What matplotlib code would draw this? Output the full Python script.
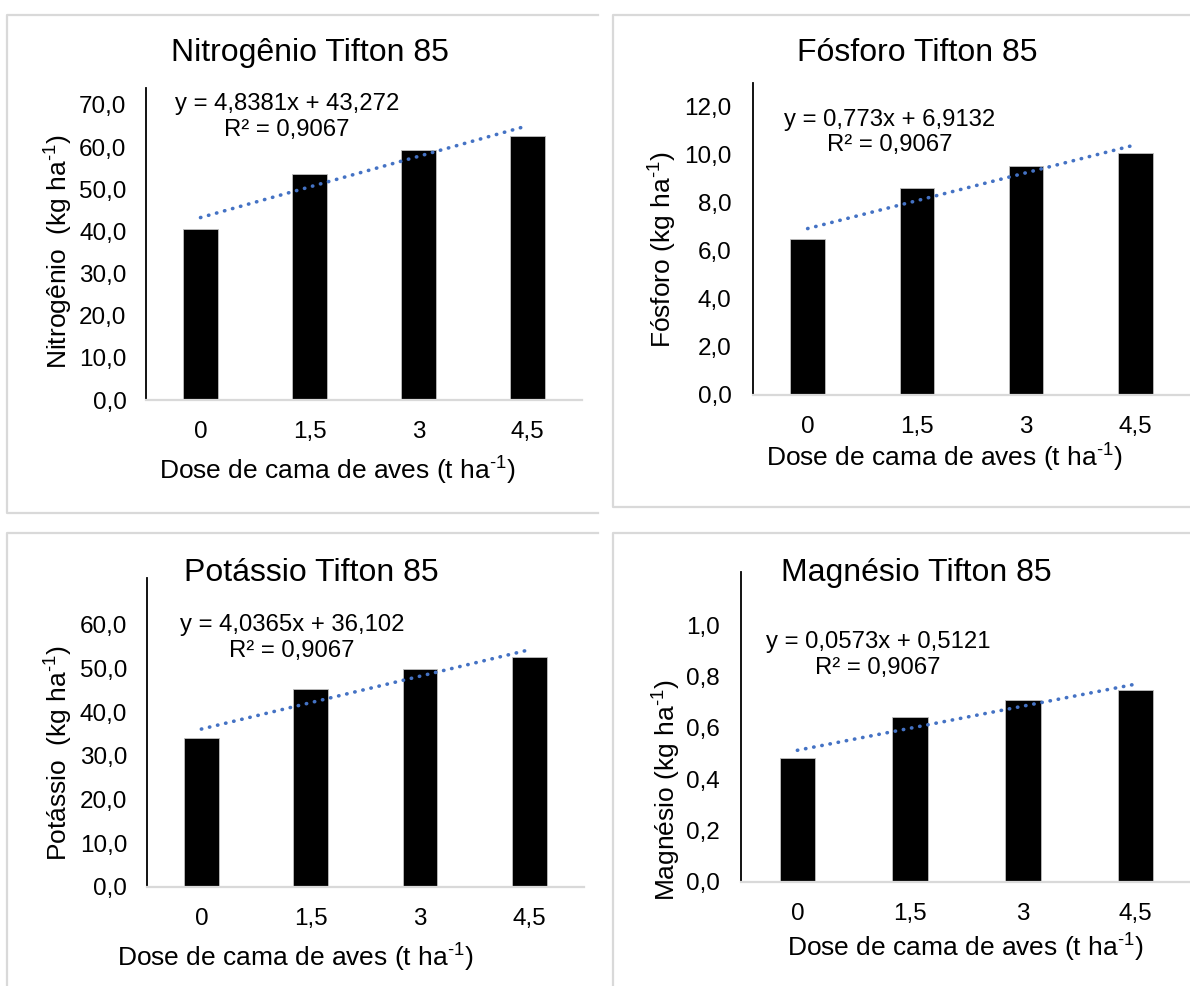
import matplotlib
matplotlib.use("Agg")
import matplotlib.pyplot as plt
from matplotlib.lines import Line2D
import numpy as np

plt.rcParams['font.family'] = ['Liberation Sans', 'DejaVu Sans']
plt.rcParams['mathtext.fontset'] = 'custom'
plt.rcParams['mathtext.rm'] = 'Liberation Sans'

# ---------------- data ----------------
doses = [0, 1.5, 3, 4.5]
dose_labels = ["0", "1,5", "3", "4,5"]

nitrogenio = [40.5, 53.7, 59.4, 62.7]
fosforo = [6.5, 8.6, 9.5, 10.05]
potassio = [34.1, 45.2, 49.9, 52.6]
magnesio = [0.483, 0.640, 0.708, 0.747]

SUP = "$^{\\mathregular{\u2010}1}$"
titles = ["Nitrogênio Tifton 85", "Fósforo Tifton 85",
          "Potássio Tifton 85", "Magnésio Tifton 85"]
ylabels = ["Nitrogênio  (kg ha" + SUP + ")",
           "Fósforo (kg ha" + SUP + ")",
           "Potássio  (kg ha" + SUP + ")",
           "Magnésio (kg ha" + SUP + ")"]
xlabel = "Dose de cama de aves (t ha" + SUP + ")"

slopes = [4.8381, 0.773, 4.0365, 0.0573]
intercepts = [43.272, 6.9132, 36.102, 0.5121]
equations = ["y = 4,8381x + 43,272\nR² = 0,9067",
             "y = 0,773x + 6,9132\nR² = 0,9067",
             "y = 4,0365x + 36,102\nR² = 0,9067",
             "y = 0,0573x + 0,5121\nR² = 0,9067"]

yticks = [np.arange(0, 71, 10), np.arange(0, 12.1, 2),
          np.arange(0, 61, 10), np.arange(0, 1.01, 0.2)]
ytops = [74.0, 12.96, 70.7, 1.208]
series = [nitrogenio, fosforo, potassio, magnesio]

# ---------------- layout (pixels) ----------------
W, H = 1190, 986
fig = plt.figure(figsize=(W / 100, H / 100), dpi=100)

# axes boxes: x_left, x_right, y_zero, y_top
boxes = [(146, 582, 400, 88), (753, 1190, 395, 83),
         (146.7, 584, 886.7, 578), (741, 1192, 881.7, 571.7)]
title_pos = [(310, 53), (917, 53), (311, 573), (916, 573)]
eq_pos = [(287, 117), (890, 132.5), (292, 638), (878, 655)]
xl_pos = [(337, 470), (944, 457), (295, 957), (965, 947)]
yl_pos = [(57.5, 252), (662, 250), (57.5, 753), (666, 790)]
ytick_pad = [14, 15.5, 14, 15.5]


def fx(x):
    return x / W


def fy(y):
    return 1 - y / H


border_col = "#d9d9d9"
# panel borders
for xs, ys in [
    ([598, 7, 7, 598], [15, 15, 513, 513]),
    ([W, 613, 613, W], [15, 15, 507, 507]),
    ([598, 7, 7], [533, 533, H]),
    ([W, 613, 613], [533, 533, H]),
]:
    fig.add_artist(Line2D([fx(v) for v in xs], [fy(v) for v in ys],
                          color=border_col, lw=1.6,
                          transform=fig.transFigure))

fmt_comma = lambda v, d: (f"{v:.{d}f}").replace(".", ",")

for i in range(4):
    x0, x1, yz, yt = boxes[i]
    ax = fig.add_axes([fx(x0), fy(yz), (x1 - x0) / W, (yz - yt) / H])
    pos = np.arange(len(doses))
    ax.bar(pos, series[i], width=0.315, color="black",
           edgecolor="#bfbfbf", linewidth=0.6, zorder=2)
    trend = [intercepts[i] + slopes[i] * d for d in (doses[0], doses[-1])]
    ax.plot([pos[0], pos[-1]], trend, color="#4472C4", lw=2.6,
            linestyle=(0, (0.1, 2.2)), dash_capstyle="round",
            solid_capstyle="round", zorder=3)
    ax.set_xlim(-0.5, 3.5)
    ax.set_ylim(0, ytops[i])
    ax.set_xticks(pos)
    ax.set_xticklabels(dose_labels)
    ax.set_yticks(yticks[i])
    ax.set_yticklabels([fmt_comma(v, 1) for v in yticks[i]])
    ax.tick_params(axis="x", length=0, pad=15, labelsize=17.5)
    ax.tick_params(axis="y", length=0, pad=ytick_pad[i], labelsize=17.5)
    for s in ("top", "right"):
        ax.spines[s].set_visible(False)
    ax.spines["left"].set_color("black")
    ax.spines["left"].set_linewidth(1.3)
    ax.spines["bottom"].set_color(border_col)
    ax.spines["bottom"].set_linewidth(1.6)
    ax.patch.set_alpha(0)

    fig.text(fx(title_pos[i][0]), fy(title_pos[i][1]), titles[i],
             ha="center", va="center", fontsize=23)
    fig.text(fx(eq_pos[i][0]), fy(eq_pos[i][1]), equations[i],
             ha="center", va="center", fontsize=17.2, linespacing=1.2,
             multialignment="center")
    fig.text(fx(xl_pos[i][0]), fy(xl_pos[i][1]), xlabel,
             ha="center", va="center", fontsize=19)
    fig.text(fx(yl_pos[i][0]), fy(yl_pos[i][1]), ylabels[i],
             ha="center", va="center", fontsize=19, rotation=90)

fig.savefig("out.png", dpi=100, facecolor="white")
